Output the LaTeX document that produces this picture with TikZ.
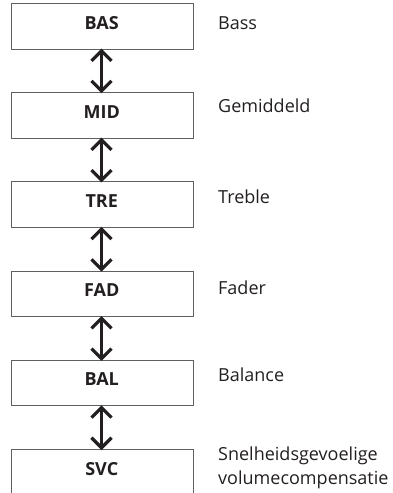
\documentclass[tikz,border=0pt]{standalone}
\usepackage{fontspec}
\setmainfont{Open Sans}
\usetikzlibrary{arrows.meta}
\definecolor{ink}{HTML}{231F20}
\definecolor{edge}{HTML}{606060}
\tikzset{
  box/.style={draw=edge, line width=1pt, minimum width=181.5pt, minimum height=45.5pt, inner sep=0pt, anchor=north west},
  boxlabel/.style={anchor=base, font=\fontsize{18}{22}\selectfont\bfseries, text=ink, inner sep=0pt},
  sidelabel/.style={anchor=base west, font=\fontsize{18}{23}\selectfont, text=ink, inner sep=0pt, align=left},
  updown/.style={draw=ink, line width=3.2pt, {Straight Barb[length=10pt,width=20pt]}-{Straight Barb[length=10pt,width=20pt]}}
}
\begin{document}
\begin{tikzpicture}[x=1pt,y=-1pt]
\useasboundingbox (0,0) rectangle (393,493);
\clip (0,0) rectangle (393,493);
% boxes
\node[box] (bas) at (11,3) {};
\node[box] (mid) at (11,92.2) {};
\node[box] (tre) at (11,181.4) {};
\node[box] (fad) at (11,270.6) {};
\node[box] (bal) at (11,359.8) {};
\node[box] (svc) at (11,449) {};
% box labels
\node[boxlabel] (tbas) at (101.75,29) {BAS};
\node[boxlabel] (tmid) at (101.75,118.2) {MID};
\node[boxlabel] (ttre) at (101.75,207.4) {TRE};
\node[boxlabel] (tfad) at (101.75,296.3) {FAD};
\node[boxlabel] (tbal) at (101.75,385.3) {BAL};
\node[boxlabel] (tsvc) at (101.75,475) {SVC};
% side labels
\node[sidelabel] (lbas) at (218,29) {Bass};
\node[sidelabel] (lmid) at (218,112.7) {Gemiddeld};
\node[sidelabel] (ltre) at (218,203) {Treble};
\node[sidelabel] (lfad) at (218,294) {Fader};
\node[sidelabel] (lbal) at (218,381.7) {Balance};
\node[sidelabel] (lsvc1) at (218,460.7) {Snelheidsgevoelige};
\node[sidelabel] (lsvc2) at (218,484) {volumecompensatie};
% arrows
\coordinate (a1) at ([xshift=-0.75pt]bas.south);
\coordinate (b1) at ([xshift=-0.75pt]mid.north);
\coordinate (a2) at ([xshift=-0.75pt]mid.south);
\coordinate (b2) at ([xshift=-0.75pt]tre.north);
\coordinate (a3) at ([xshift=-0.75pt]tre.south);
\coordinate (b3) at ([xshift=-0.75pt]fad.north);
\coordinate (a4) at ([xshift=-0.75pt]fad.south);
\coordinate (b4) at ([xshift=-0.75pt]bal.north);
\coordinate (a5) at ([xshift=-0.75pt]bal.south);
\coordinate (b5) at ([xshift=-0.75pt]svc.north);
\draw[updown] ([yshift=1pt]a1) -- ([yshift=-1pt]b1);
\draw[updown] ([yshift=1pt]a2) -- ([yshift=-1pt]b2);
\draw[updown] ([yshift=1pt]a3) -- ([yshift=-1pt]b3);
\draw[updown] ([yshift=1pt]a4) -- ([yshift=-1pt]b4);
\draw[updown] ([yshift=1pt]a5) -- ([yshift=-1pt]b5);
\end{tikzpicture}
\end{document}
